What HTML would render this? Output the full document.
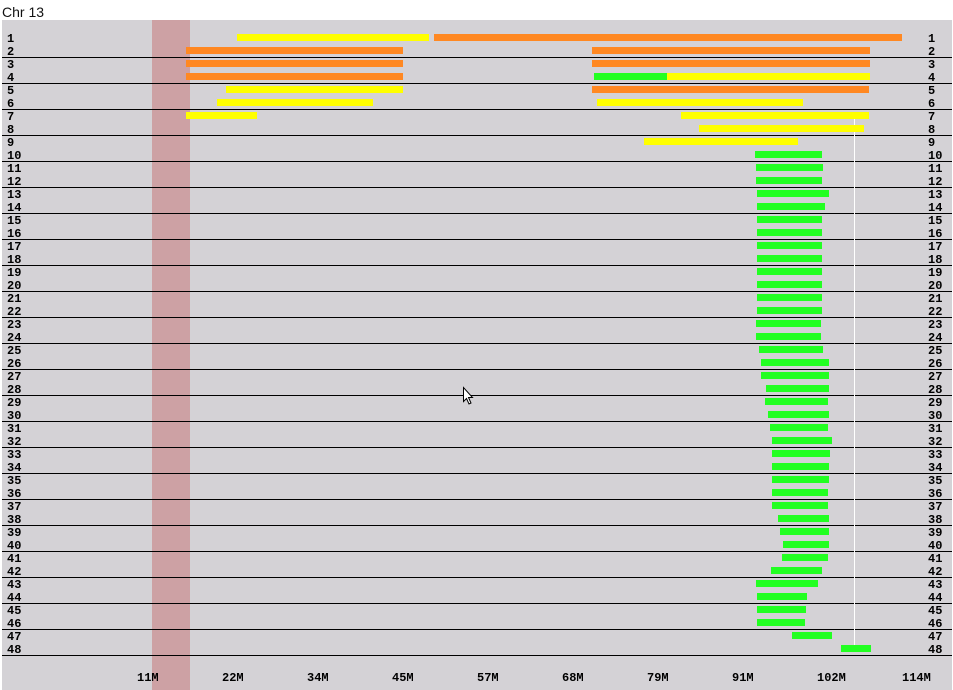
<!DOCTYPE html>
<html>
<head>
<meta charset="utf-8">
<style>
  html, body { margin:0; padding:0; background:#ffffff; }
  body { width:953px; height:690px; overflow:hidden; position:relative; }
  svg { display:block; }
  .lbl { font-family:"Liberation Mono", "DejaVu Sans Mono", monospace; font-weight:bold; font-size:12px; fill:#000; }
  .ttl { font-family:"Liberation Sans", Arial, sans-serif; font-size:14px; fill:#111; }
</style>
</head>
<body>
<svg width="953" height="690" viewBox="0 0 953 690" xmlns="http://www.w3.org/2000/svg" shape-rendering="crispEdges">
  <text class="ttl" x="2" y="17">Chr 13</text>
  <rect x="2" y="20" width="950" height="670" fill="#d4d2d6"/>
  <rect x="152" y="20" width="38" height="670" fill="#cda1a4"/>

  <!-- horizontal separators -->
  <g fill="#000">
    <rect x="2" y="57" width="950" height="1"/>
    <rect x="2" y="83" width="950" height="1"/>
    <rect x="2" y="109" width="950" height="1"/>
    <rect x="2" y="135" width="950" height="1"/>
    <rect x="2" y="161" width="950" height="1"/>
    <rect x="2" y="187" width="950" height="1"/>
    <rect x="2" y="213" width="950" height="1"/>
    <rect x="2" y="239" width="950" height="1"/>
    <rect x="2" y="265" width="950" height="1"/>
    <rect x="2" y="291" width="950" height="1"/>
    <rect x="2" y="317" width="950" height="1"/>
    <rect x="2" y="343" width="950" height="1"/>
    <rect x="2" y="369" width="950" height="1"/>
    <rect x="2" y="395" width="950" height="1"/>
    <rect x="2" y="421" width="950" height="1"/>
    <rect x="2" y="447" width="950" height="1"/>
    <rect x="2" y="473" width="950" height="1"/>
    <rect x="2" y="499" width="950" height="1"/>
    <rect x="2" y="525" width="950" height="1"/>
    <rect x="2" y="551" width="950" height="1"/>
    <rect x="2" y="577" width="950" height="1"/>
    <rect x="2" y="603" width="950" height="1"/>
    <rect x="2" y="629" width="950" height="1"/>
    <rect x="2" y="655" width="950" height="1"/>
  </g>

  <!-- white vertical marker -->
  <rect x="854" y="119" width="1" height="527" fill="#ffffff"/>

  <!-- bars -->
  <g>
    <!-- row 1 y=34 -->
    <rect x="237" y="34" width="192" height="7" fill="#ffff00"/>
    <rect x="434" y="34" width="468" height="7" fill="#ff8822"/>
    <!-- row 2 y=47 -->
    <rect x="186" y="47" width="217" height="7" fill="#ff8822"/>
    <rect x="592" y="47" width="278" height="7" fill="#ff8822"/>
    <!-- row 3 y=60 -->
    <rect x="186" y="60" width="217" height="7" fill="#ff8822"/>
    <rect x="592" y="60" width="278" height="7" fill="#ff8822"/>
    <!-- row 4 y=73 -->
    <rect x="186" y="73" width="217" height="7" fill="#ff8822"/>
    <rect x="594" y="73" width="73" height="7" fill="#22ff22"/>
    <rect x="667" y="73" width="203" height="7" fill="#ffff00"/>
    <!-- row 5 y=86 -->
    <rect x="226" y="86" width="177" height="7" fill="#ffff00"/>
    <rect x="592" y="86" width="277" height="7" fill="#ff8822"/>
    <!-- row 6 y=99 -->
    <rect x="217" y="99" width="156" height="7" fill="#ffff00"/>
    <rect x="597" y="99" width="206" height="7" fill="#ffff00"/>
    <!-- row 7 y=112 -->
    <rect x="186" y="112" width="71" height="7" fill="#ffff00"/>
    <rect x="681" y="112" width="188" height="7" fill="#ffff00"/>
    <!-- row 8 y=125 -->
    <rect x="699" y="125" width="165" height="7" fill="#ffff00"/>
    <!-- row 9 y=138 -->
    <rect x="644" y="138" width="154" height="7" fill="#ffff00"/>
  </g>
  <g fill="#22ff22">
    <rect x="755" y="151" width="67" height="7"/>
    <rect x="756" y="164" width="67" height="7"/>
    <rect x="756" y="177" width="66" height="7"/>
    <rect x="757" y="190" width="72" height="7"/>
    <rect x="757" y="203" width="68" height="7"/>
    <rect x="757" y="216" width="65" height="7"/>
    <rect x="757" y="229" width="65" height="7"/>
    <rect x="757" y="242" width="65" height="7"/>
    <rect x="757" y="255" width="65" height="7"/>
    <rect x="757" y="268" width="65" height="7"/>
    <rect x="757" y="281" width="65" height="7"/>
    <rect x="757" y="294" width="65" height="7"/>
    <rect x="757" y="307" width="65" height="7"/>
    <rect x="756" y="320" width="65" height="7"/>
    <rect x="756" y="333" width="65" height="7"/>
    <rect x="759" y="346" width="64" height="7"/>
    <rect x="761" y="359" width="68" height="7"/>
    <rect x="761" y="372" width="68" height="7"/>
    <rect x="766" y="385" width="63" height="7"/>
    <rect x="765" y="398" width="63" height="7"/>
    <rect x="768" y="411" width="61" height="7"/>
    <rect x="770" y="424" width="58" height="7"/>
    <rect x="772" y="437" width="60" height="7"/>
    <rect x="772" y="450" width="58" height="7"/>
    <rect x="772" y="463" width="57" height="7"/>
    <rect x="772" y="476" width="57" height="7"/>
    <rect x="772" y="489" width="56" height="7"/>
    <rect x="772" y="502" width="56" height="7"/>
    <rect x="778" y="515" width="51" height="7"/>
    <rect x="780" y="528" width="49" height="7"/>
    <rect x="783" y="541" width="46" height="7"/>
    <rect x="782" y="554" width="46" height="7"/>
    <rect x="771" y="567" width="51" height="7"/>
    <rect x="756" y="580" width="62" height="7"/>
    <rect x="757" y="593" width="50" height="7"/>
    <rect x="757" y="606" width="49" height="7"/>
    <rect x="757" y="619" width="48" height="7"/>
    <rect x="792" y="632" width="40" height="7"/>
    <rect x="841" y="645" width="30" height="7"/>
  </g>

  <!-- left labels -->
  <g class="lbl">
    <text x="7" y="42">1</text><text x="7" y="55">2</text><text x="7" y="68">3</text><text x="7" y="81">4</text>
    <text x="7" y="94">5</text><text x="7" y="107">6</text><text x="7" y="120">7</text><text x="7" y="133">8</text>
    <text x="7" y="146">9</text><text x="7" y="159">10</text><text x="7" y="172">11</text><text x="7" y="185">12</text>
    <text x="7" y="198">13</text><text x="7" y="211">14</text><text x="7" y="224">15</text><text x="7" y="237">16</text>
    <text x="7" y="250">17</text><text x="7" y="263">18</text><text x="7" y="276">19</text><text x="7" y="289">20</text>
    <text x="7" y="302">21</text><text x="7" y="315">22</text><text x="7" y="328">23</text><text x="7" y="341">24</text>
    <text x="7" y="354">25</text><text x="7" y="367">26</text><text x="7" y="380">27</text><text x="7" y="393">28</text>
    <text x="7" y="406">29</text><text x="7" y="419">30</text><text x="7" y="432">31</text><text x="7" y="445">32</text>
    <text x="7" y="458">33</text><text x="7" y="471">34</text><text x="7" y="484">35</text><text x="7" y="497">36</text>
    <text x="7" y="510">37</text><text x="7" y="523">38</text><text x="7" y="536">39</text><text x="7" y="549">40</text>
    <text x="7" y="562">41</text><text x="7" y="575">42</text><text x="7" y="588">43</text><text x="7" y="601">44</text>
    <text x="7" y="614">45</text><text x="7" y="627">46</text><text x="7" y="640">47</text><text x="7" y="653">48</text>
  </g>
  <!-- right labels -->
  <g class="lbl">
    <text x="928" y="42">1</text><text x="928" y="55">2</text><text x="928" y="68">3</text><text x="928" y="81">4</text>
    <text x="928" y="94">5</text><text x="928" y="107">6</text><text x="928" y="120">7</text><text x="928" y="133">8</text>
    <text x="928" y="146">9</text><text x="928" y="159">10</text><text x="928" y="172">11</text><text x="928" y="185">12</text>
    <text x="928" y="198">13</text><text x="928" y="211">14</text><text x="928" y="224">15</text><text x="928" y="237">16</text>
    <text x="928" y="250">17</text><text x="928" y="263">18</text><text x="928" y="276">19</text><text x="928" y="289">20</text>
    <text x="928" y="302">21</text><text x="928" y="315">22</text><text x="928" y="328">23</text><text x="928" y="341">24</text>
    <text x="928" y="354">25</text><text x="928" y="367">26</text><text x="928" y="380">27</text><text x="928" y="393">28</text>
    <text x="928" y="406">29</text><text x="928" y="419">30</text><text x="928" y="432">31</text><text x="928" y="445">32</text>
    <text x="928" y="458">33</text><text x="928" y="471">34</text><text x="928" y="484">35</text><text x="928" y="497">36</text>
    <text x="928" y="510">37</text><text x="928" y="523">38</text><text x="928" y="536">39</text><text x="928" y="549">40</text>
    <text x="928" y="562">41</text><text x="928" y="575">42</text><text x="928" y="588">43</text><text x="928" y="601">44</text>
    <text x="928" y="614">45</text><text x="928" y="627">46</text><text x="928" y="640">47</text><text x="928" y="653">48</text>
  </g>

  <!-- axis labels -->
  <g class="lbl">
    <text x="137" y="681">11M</text>
    <text x="222" y="681">22M</text>
    <text x="307" y="681">34M</text>
    <text x="392" y="681">45M</text>
    <text x="477" y="681">57M</text>
    <text x="562" y="681">68M</text>
    <text x="647" y="681">79M</text>
    <text x="732" y="681">91M</text>
    <text x="817" y="681">102M</text>
    <text x="902" y="681">114M</text>
  </g>

  <!-- mouse cursor -->
  <path d="M463.5 387.5 L463.5 401.5 L466.5 398.5 L469 404 L471 403 L468.5 397.5 L472.5 397.5 Z" fill="#ffffff" stroke="#000000" stroke-width="1" shape-rendering="auto"/>
</svg>
</body>
</html>
